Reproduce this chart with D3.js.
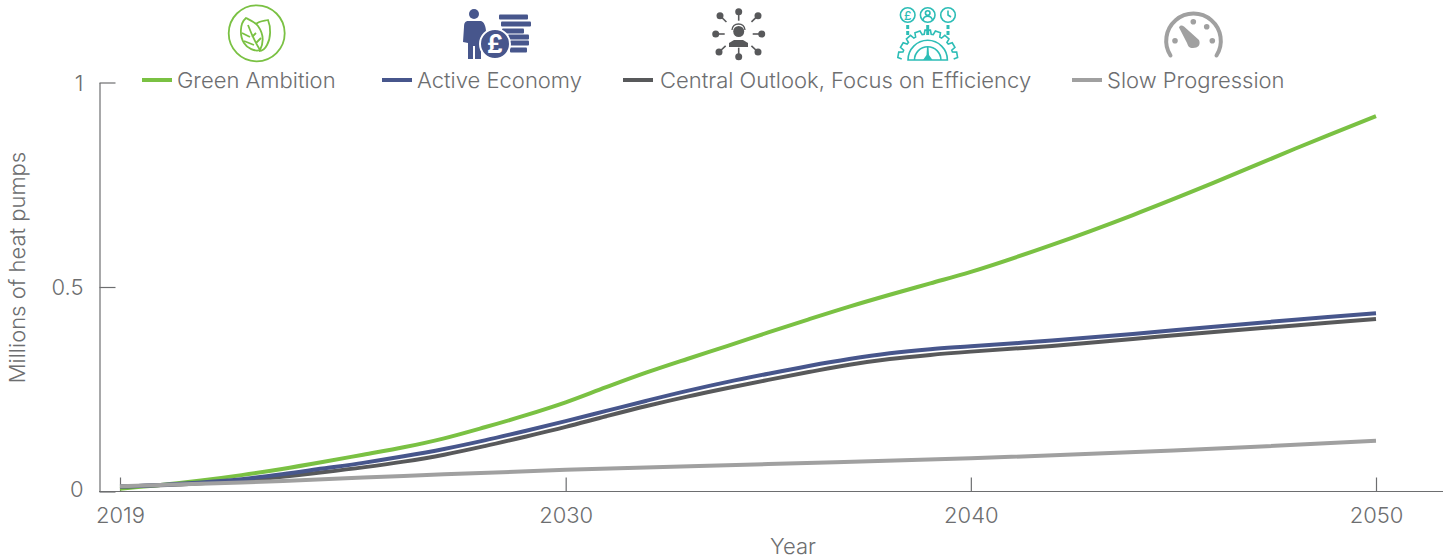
<!DOCTYPE html>
<html>
<head>
<meta charset="utf-8">
<script src="https://cdn.jsdelivr.net/npm/d3@7"></script>
<style>
html,body{margin:0;padding:0;background:#fff;}
svg{display:block;}
text{font-family:"Inter","Liberation Sans",sans-serif;font-weight:300;fill:#6d6e70;}
</style>
</head>
<body>
<svg id="chart" width="1451" height="560"></svg>
<script>
const years = [2019,2020,2021,2022,2023,2024,2025,2026,2027,2028,2029,2030,2031,2032,2033,2034,2035,2036,2037,2038,2039,2040,2042,2044,2046,2048,2050];
const greenAmbition = [.007,.016,.027,.040,.055,.072,.090,.108,.130,.157,.186,.218,.255,.291,.324,.356,.389,.421,.452,.481,.509,.537,.603,.676,.755,.838,.918];
const activeEconomy = [.012,.016,.022,.030,.042,.056,.070,.086,.104,.125,.148,.172,.197,.222,.246,.268,.288,.307,.324,.338,.348,.355,.369,.385,.403,.420,.436];
const centralOutlook = [.012,.015,.020,.027,.036,.047,.059,.073,.090,.111,.134,.158,.184,.209,.232,.253,.273,.292,.310,.324,.334,.342,.356,.373,.390,.406,.422];
const slowYears = [2019,2022,2025,2027,2030,2035,2040,2045,2050];
const slowProgression = [.013,.022,.034,.042,.053,.067,.081,.100,.124];
const seriesNames = ["Green Ambition","Active Economy","Central Outlook, Focus on Efficiency","Slow Progression"];
const seriesColors = ["#7ac143","#47568c","#58595b","#a0a0a0"];
const xTicks = [2019,2030,2040,2050];
const yTicks = [0,0.5,1];
const yTickLabels = ["0","0.5","1"];
const legendLineX = [142,382,623,1072];

const svg = d3.select("#chart");
const x = d3.scaleLinear().domain([2019,2050]).range([120,1376]);
const y = d3.scaleLinear().domain([0,1]).range([491.5,82.5]);
const axisColor = "#6d6e70";
const fs = 22;

// axes
const gx = svg.append("g").attr("transform","translate(0,491.5)")
  .call(d3.axisBottom(x).tickValues(xTicks).tickFormat(d3.format("d")).tickSizeOuter(0).tickSizeInner(-14).tickPadding(16));
gx.select(".domain").remove();
gx.selectAll("line").attr("stroke",axisColor).attr("stroke-width",1.2);
gx.selectAll("text").attr("font-size",fs).attr("dy","0.71em");
gx.attr("font-family",null);
const gy = svg.append("g").attr("transform","translate(99.5,0)")
  .call(d3.axisLeft(y).tickValues(yTicks).tickFormat((d,i)=>yTickLabels[i]).tickSizeOuter(0).tickSizeInner(-16).tickPadding(16));
gy.select(".domain").attr("stroke",axisColor).attr("stroke-width",1.2);
gy.selectAll("line").attr("stroke",axisColor).attr("stroke-width",1.2);
gy.selectAll("text").attr("font-size",fs).attr("dy",d=>d===0?"0.23em":"0.36em");
gy.attr("font-family",null);
svg.append("line").attr("x1",99).attr("x2",1443).attr("y1",491.5).attr("y2",491.5).attr("stroke",axisColor).attr("stroke-width",1.2);

svg.append("text").attr("x",793).attr("y",554).attr("text-anchor","middle").attr("font-size",fs).text("Year");
svg.append("text").attr("transform","translate(25,267.5) rotate(-90)").attr("text-anchor","middle").attr("font-size",fs).text("Millions of heat pumps");

// lines
const line = d3.line().x(d=>x(d[0])).y(d=>y(d[1])).curve(d3.curveCatmullRom.alpha(0.5));
const drawOrder = [
  [years,greenAmbition,0],
  [years,centralOutlook,2],
  [years,activeEconomy,1],
  [slowYears,slowProgression,3]
];
svg.append("g").selectAll("path").data(drawOrder).join("path")
  .attr("fill","none").attr("stroke-width",4)
  .attr("stroke",d=>seriesColors[d[2]])
  .attr("d",d=>line(d[0].map((yr,i)=>[yr,d[1][i]])));

// legend
const lg = svg.append("g").selectAll("g").data(seriesNames).join("g");
lg.append("line").attr("x1",(d,i)=>legendLineX[i]).attr("x2",(d,i)=>legendLineX[i]+30)
  .attr("y1",80).attr("y2",80).attr("stroke-width",4).attr("stroke",(d,i)=>seriesColors[i]);
lg.append("text").attr("x",(d,i)=>legendLineX[i]+35+(i===2?2:0)).attr("y",88).attr("font-size",fs).text(d=>d);

// icons
const g1 = svg.append("g").attr("fill","none").attr("stroke",seriesColors[0]).attr("stroke-width",1.8);
g1.append("circle").attr("cx",256.7).attr("cy",33.3).attr("r",28);
g1.append("path").attr("d","M246 18C239 24 240 37 244 43C247 48 255 52 260 50C264 42 263 33 258 26C255 22 250 20 246 18Z");
g1.append("path").attr("d","M256 24C259 21 264 21 268 20C271 27 271 38 267 45C265 49 262 51 259 51");
g1.append("path").attr("d","M248 25C251 33 255 42 260 50M242 33L250 37M244 41L254 45M256 33L252 37M261 38L256 43");

const g2 = svg.append("g").attr("fill",seriesColors[1]);
g2.append("circle").attr("cx",474).attr("cy",14).attr("r",5);
g2.append("path").attr("d","M467 21L481 21C484 22 486 26 486 32L486 43L481 43L481 59L475 59L475 46L473 46L473 59L468 59L468 43L463 42L464 27C464 23 465 22 467 21Z");
[[499,528,17],[501,531,24],[502,524,31],[508,529,37],[510,529,43],[510,527,50]].forEach(r=>{
  g2.append("rect").attr("x",r[0]).attr("y",r[2]-2.5).attr("width",r[1]-r[0]).attr("height",5).attr("rx",1);
});
g2.append("circle").attr("cx",495).attr("cy",44).attr("r",15).attr("stroke","#fff").attr("stroke-width",2);
svg.append("text").attr("x",495).attr("y",53).attr("text-anchor","middle").attr("font-size",25)
  .style("font-weight",700).style("fill","#fff").text("£");

const g3 = svg.append("g").attr("fill",seriesColors[2]).attr("stroke",seriesColors[2]);
const cx3 = 738.7, cy3 = 34;
[[738.7,11.7],[720,15.7],[758,15.7],[715.7,34],[761.7,34],[719,52],[758,52],[738.7,56.7]].forEach(p=>{
  g3.append("circle").attr("cx",p[0]).attr("cy",p[1]).attr("r",3.5).attr("stroke","none");
  const dx = cx3-p[0], dy = cy3-p[1], L = Math.hypot(dx,dy);
  g3.append("line").attr("x1",p[0]).attr("y1",p[1]).attr("x2",p[0]+dx*9/L).attr("y2",p[1]+dy*9/L).attr("stroke-width",1.6);
});
g3.append("circle").attr("cx",738.7).attr("cy",31.5).attr("r",5.5).attr("stroke","none");
g3.append("path").attr("stroke","none").attr("d","M729 47L729 43L734 40L743 40L748 43L748 47Z");
g3.append("path").attr("fill","none").attr("stroke-width",1.3).attr("d","M732 30C733 22 744 22 745 30");

const teal = "#2dbdb6";
const g4 = svg.append("g").attr("fill","none").attr("stroke",teal).attr("stroke-width",1.6);
[907.7,927.7,948].forEach(cx=>{
  g4.append("circle").attr("cx",cx).attr("cy",15).attr("r",7.3);
  g4.append("line").attr("x1",cx).attr("x2",cx).attr("y1",25).attr("y2",35).attr("stroke-width",3).attr("stroke-dasharray",cx===927.7?"6 0":"4 2");
});
svg.append("text").attr("x",907.7).attr("y",19.5).attr("text-anchor","middle").attr("font-size",12).style("fill",teal).style("font-weight",500).text("£");
g4.append("circle").attr("cx",927.7).attr("cy",13).attr("r",2.3);
g4.append("path").attr("d","M923 20C924 15 931 15 932.5 20");
g4.append("path").attr("d","M948 10.5L948 15L951 17");
const teeth = d3.range(9).map(i=>Math.PI*(i+0.5)/9);
const gearPts = [];
teeth.forEach(a=>{
  const w=0.09, ro=30, ri=26;
  [[ri,a-w*1.5],[ro,a-w],[ro,a+w],[ri,a+w*1.5]].forEach(q=>gearPts.push([927.7-q[0]*Math.cos(q[1]),60-q[0]*Math.sin(q[1])]));
});
g4.append("path").attr("d",d3.line()(gearPts));
g4.append("path").attr("d","M908 60A19.7 19.7 0 0 1 947.4 60Z");
g4.append("path").attr("d","M914.5 60A13.2 13.2 0 0 1 940.9 60");
g4.append("path").attr("fill",teal).attr("stroke","none").attr("d","M923 60L926.5 55L927 47L928.5 47L929 55L932.5 60Z");

const g5 = svg.append("g").attr("fill",seriesColors[3]);
g5.append("path").attr("fill","none").attr("stroke",seriesColors[3]).attr("stroke-width",4).attr("stroke-linecap","round")
  .attr("d","M1170.5 55.5A27.3 27.3 0 1 1 1216.5 55.5");
[[1175,40.7],[1193.3,21.7],[1206.7,26.7],[1212.3,40.7]].forEach(p=>g5.append("circle").attr("cx",p[0]).attr("cy",p[1]).attr("r",2.8));
g5.append("path").attr("d","M1179 27.5C1180 25 1182 25 1184 26.5L1199 40C1201 45 1198 48 1193 48C1189 48 1188 46 1187 43Z");
</script>
</body>
</html>
